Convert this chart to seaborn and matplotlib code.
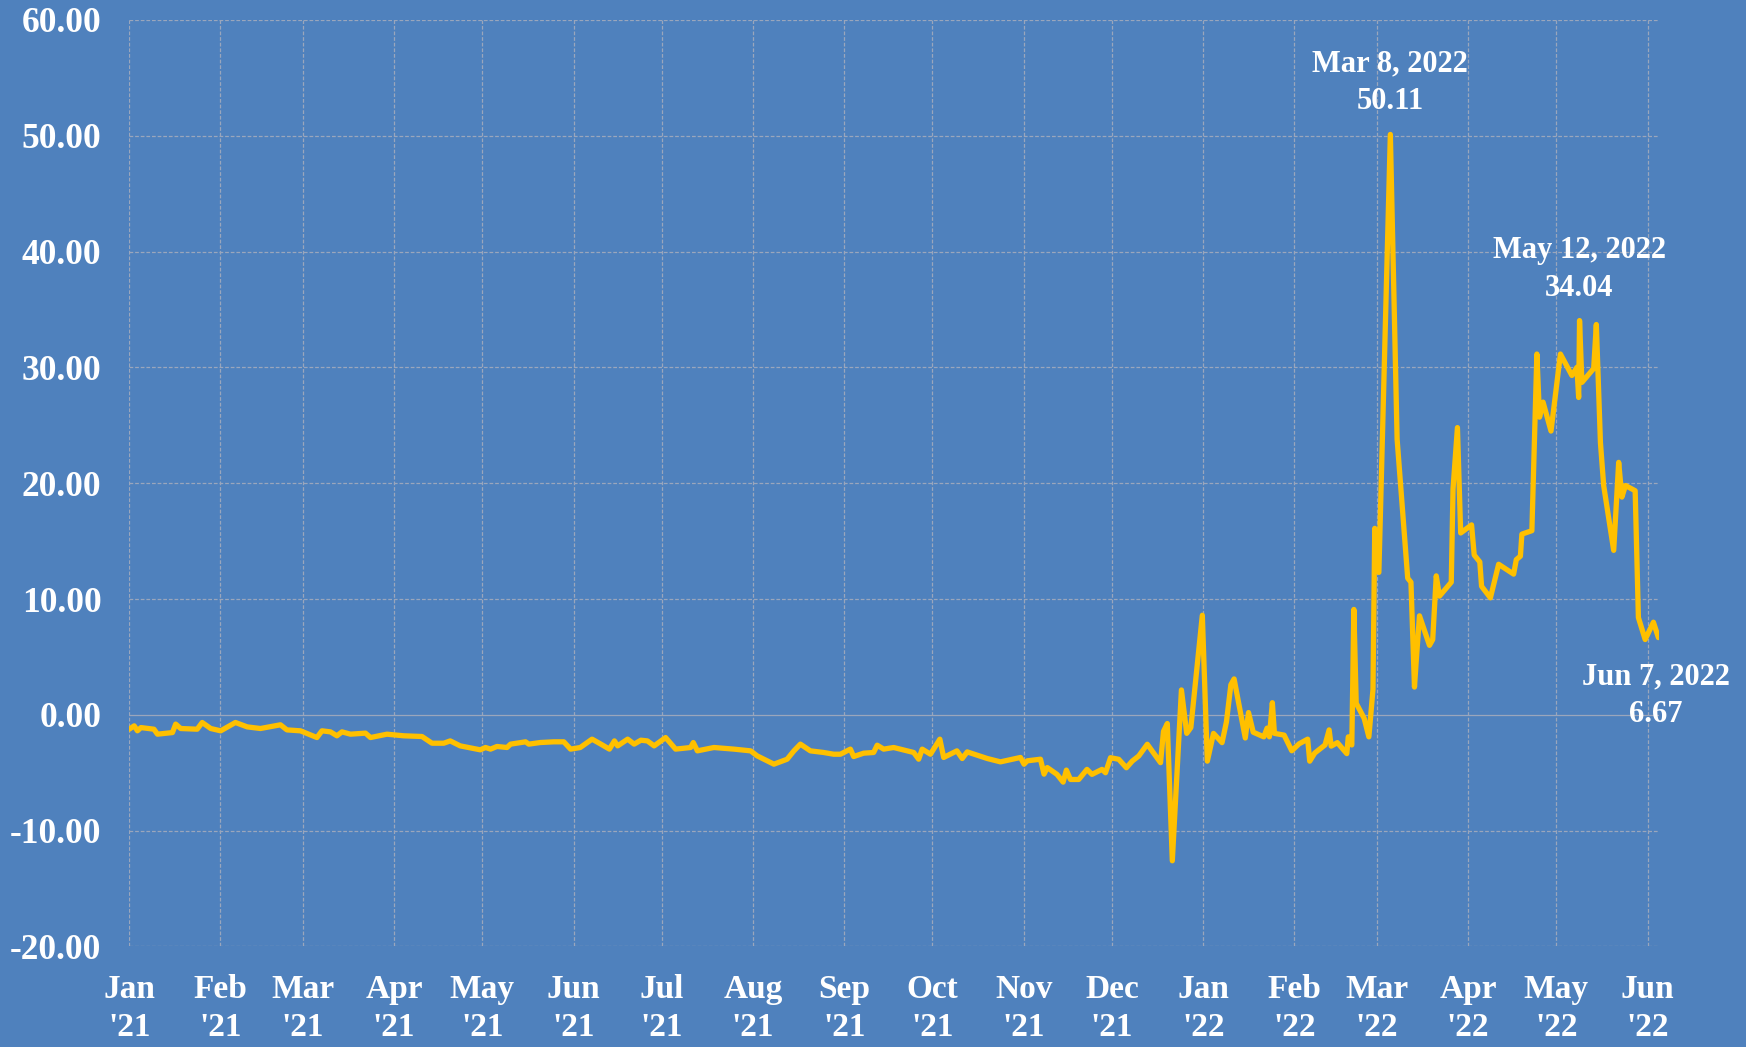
import pandas as pd
import numpy as np
import matplotlib
matplotlib.use('Agg')
from matplotlib import pyplot as plt
import matplotlib.dates as mdates
import seaborn as sns

days = [0, 1.7, 2.8, 4, 8.4, 9.6, 14.7, 15.8, 17.5, 23.1, 24.8, 27.7, 31.1, 36.1, 40.1,
        44.6, 51.4, 53.6, 58.2, 63.8, 65.5, 68.4, 70.6, 72.3, 75.2, 80.3, 82, 87.6, 93.3,
        99.5, 102.9, 106.9, 109.1, 112.5, 117.1, 119.3, 121.1, 122.8, 125, 128.4, 129.6,
        134.7, 135.8, 139.7, 144.3, 147.7, 150, 153.3, 157.3, 160.3, 163.2, 164.9, 166,
        169.4, 171.6, 173.9, 176.1, 178.4, 182.3, 185.7, 190.8, 191.7, 193.1, 198.7, 205.5,
        211.2, 213.4, 219.1, 223.6, 225.9, 228.1, 231.5, 236, 239.4, 241.7, 245.1, 246.2,
        249.6, 253, 254.2, 256.4, 259.8, 266.6, 268.3, 269.5, 272.3, 275.5, 276.8, 281.3,
        283.1, 284.8, 291.6, 296.1, 302.9, 304.1, 305.2, 309.7, 310.9, 312, 315.3, 317.4,
        318.5, 319.9, 322.7, 325.5, 327.2, 330.6, 331.8, 333.5, 336.3, 338.9, 340.9, 343.1,
        346, 350.5, 351.5, 352.8, 354.5, 357.6, 359.4, 360.8, 364.7, 366.4, 368.5, 371.4,
        372.9, 374.4, 375.5, 379.3, 380.4, 382, 385.6, 386.7, 387.5, 388.5, 389.2, 392.5,
        395.1, 397.6, 400.5, 401.2, 402.9, 406.4, 407.8, 408.5, 410.6, 413.8, 414.3, 415.5,
        416.2, 417, 419.7, 421.3, 422.7, 423.3, 424.7, 428.6, 430.9, 434.5, 435.6, 436.8,
        437.3, 438.5, 441.9, 443, 444.2, 445.3, 449.3, 449.9, 451.4, 452.5, 456.2, 457.1,
        459, 459.6, 462.6, 465.4, 470.5, 471.4, 472.8, 473.3, 476.7, 478.4, 479.3, 480.5,
        483.2, 486.4, 490.3, 492, 492.6, 492.9, 493.7, 497.7, 498.6, 500, 501.1, 504.5,
        506.2, 507.3, 508.5, 511.8, 512.9, 515.2, 518, 519.7]
values = [-1.24, -0.95, -1.38, -1.1, -1.24, -1.67, -1.53, -0.8, -1.18, -1.24, -0.66, -1.18,
          -1.38, -0.66, -1.04, -1.18, -0.86, -1.3, -1.38, -1.96, -1.38, -1.47, -1.81, -1.47,
          -1.67, -1.58, -1.96, -1.67, -1.81, -1.87, -2.45, -2.45, -2.25, -2.68, -2.91, -3.02,
          -2.82, -2.96, -2.73, -2.82, -2.53, -2.33, -2.53, -2.39, -2.33, -2.33, -2.96, -2.82,
          -2.1, -2.53, -2.96, -2.25, -2.68, -2.1, -2.53, -2.19, -2.25, -2.68, -1.96, -2.96,
          -2.82, -2.39, -3.11, -2.82, -2.96, -3.11, -3.54, -4.26, -3.83, -3.11, -2.53, -3.11,
          -3.25, -3.4, -3.4, -2.96, -3.6, -3.31, -3.25, -2.62, -2.96, -2.82, -3.25, -3.83,
          -2.96, -3.4, -2.1, -3.68, -3.11, -3.77, -3.2, -3.77, -4.06, -3.68, -4.26, -3.97,
          -3.83, -5.12, -4.55, -5.14, -5.81, -4.77, -5.58, -5.58, -4.71, -5.14, -4.71, -5.0,
          -3.7, -3.84, -4.57, -3.99, -3.55, -2.54, -4.13, -1.43, -0.75, -12.6, 2.15, -1.6,
          -1.1, 8.6, -4.0, -1.6, -2.4, -0.6, 2.6, 3.1, -2.0, 0.2, -1.5, -1.9, -1.15, -1.9,
          1.05, -1.6, -1.75, -3.1, -2.5, -2.1, -4.0, -3.3, -2.6, -1.3, -2.7, -2.4, -3.35,
          -1.9, -2.6, 9.1, 1.0, -0.3, -1.9, 2.2, 16.1, 12.3, 50.11, 23.8, 11.8, 11.45, 2.4,
          4.3, 8.55, 6.0, 6.5, 12.0, 10.25, 11.45, 19.5, 24.8, 15.7, 16.4, 13.8, 13.2, 11.1,
          10.1, 13.0, 12.15, 13.4, 13.7, 15.6, 15.9, 31.15, 25.7, 27.0, 24.5, 31.15, 29.3,
          30.0, 27.4, 34.04, 28.7, 29.9, 33.7, 23.5, 19.8, 14.2, 21.8, 18.8, 19.8, 19.35,
          8.4, 6.5, 8.0, 6.67]

# annotated points: (index into the series, label)
notes = [(days.index(428.6), 'Mar 8, 2022\n50.11'),
         (days.index(492.9), 'May 12, 2022\n34.04'),
         (days.index(519.7), 'Jun 7, 2022\n6.67')]

start = pd.Timestamp('2021-01-01')
df = pd.DataFrame({'Date': start + pd.to_timedelta(days, unit='D'), 'Value': values})

bg = '#4F81BD'
gridc = '#9AA6BC'
sns.set_theme(style='dark')
plt.rcParams['font.family'] = ['Liberation Serif', 'DejaVu Serif']

fig = plt.figure(figsize=(17.46, 10.47), dpi=100, facecolor=bg)
ax = fig.add_axes([0.074, 0.096, 0.876, 0.885])
ax.set_facecolor(bg)

# grid
for y in range(-20, 61, 10):
    ax.axhline(y, color=gridc, lw=0.9, ls=(0, (3, 1.5)) if y != 0 else '-', zorder=1)
for m in pd.date_range('2021-01-01', '2022-06-01', freq='MS'):
    ax.axvline(m, color=gridc, lw=0.9, ls=(0, (3, 1.5)), zorder=1)

sns.lineplot(data=df, x='Date', y='Value', color='#FFC000', lw=3.8,
             estimator=None, ax=ax, zorder=3)

ax.set_xlim(start, start + pd.Timedelta(days=519.8))
ax.set_ylim(-20, 60)
ax.set_yticks(range(-20, 61, 10))
ax.yaxis.set_major_formatter(matplotlib.ticker.FuncFormatter(lambda v, p: f'{v:.2f}'))
ax.xaxis.set_major_locator(mdates.MonthLocator())
ax.xaxis.set_major_formatter(mdates.DateFormatter("%b\n'%y"))
ax.tick_params(axis='both', length=0, colors='white', labelsize=24)
ax.tick_params(axis='y', pad=20, labelsize=25.5)
ax.tick_params(axis='x', pad=20)
for lab in ax.get_xticklabels() + ax.get_yticklabels():
    lab.set_fontweight('bold')
for lab in ax.get_xticklabels():
    lab.set_linespacing(1.3)
ax.set_xlabel('')
ax.set_ylabel('')
ax.grid(False)
for s in ax.spines.values():
    s.set_visible(False)

for i, txt in notes:
    d = df['Date'][i]
    v = values[i]
    if v < 10:
        ax.annotate(txt, (d, v), xytext=(-2, -18), textcoords='offset points',
                    ha='center', va='top', color='white', fontsize=22,
                    fontweight='bold', multialignment='center', linespacing=1.4,
                    annotation_clip=False)
    else:
        ax.annotate(txt, (d, v), xytext=(0, 13), textcoords='offset points',
                    ha='center', va='bottom', color='white', fontsize=22,
                    fontweight='bold', multialignment='center', linespacing=1.4)

fig.savefig('out.png', dpi=100, facecolor=bg)
